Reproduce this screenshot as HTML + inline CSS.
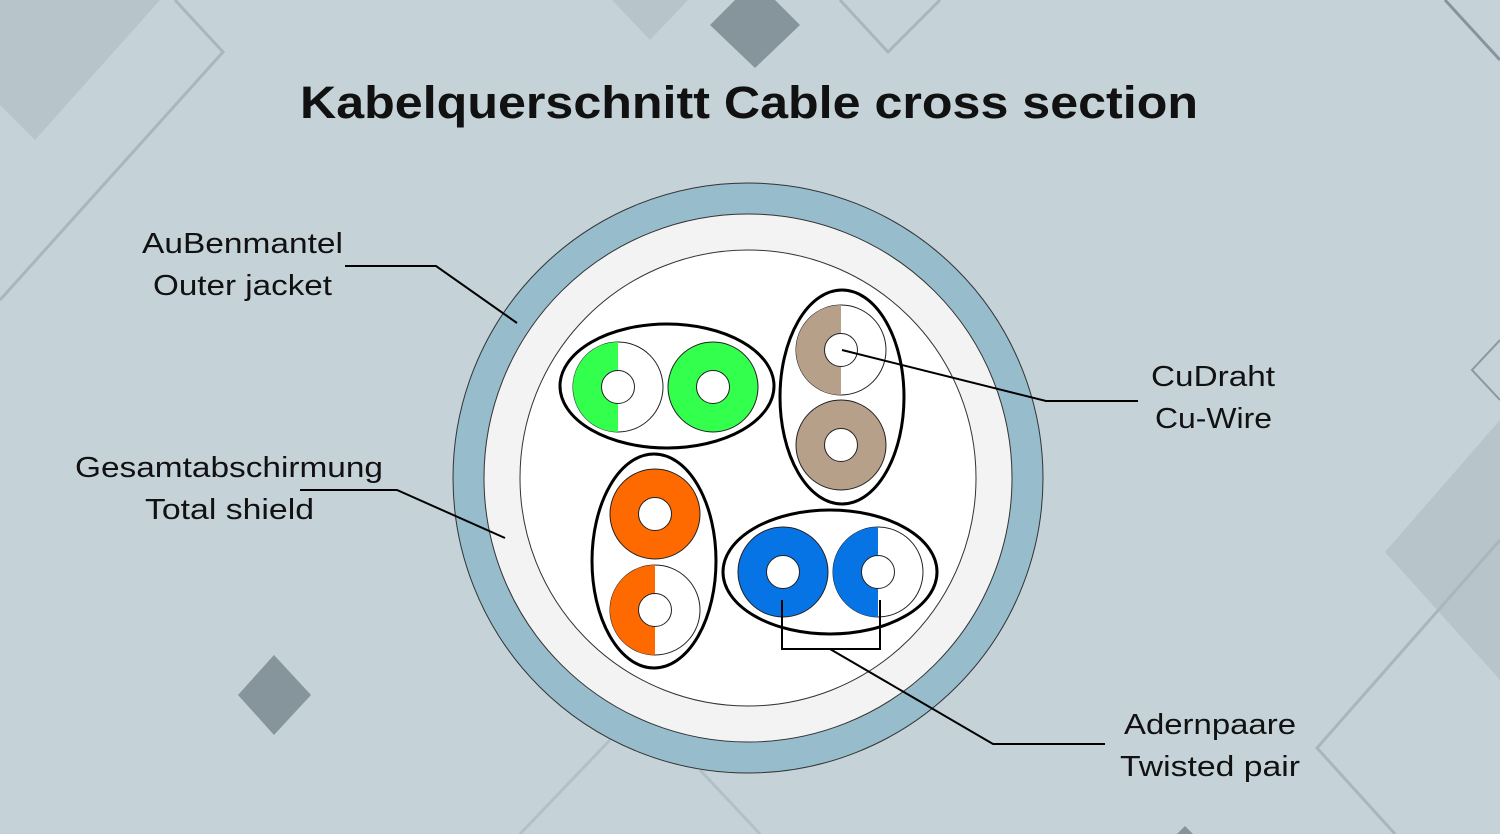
<!DOCTYPE html>
<html><head><meta charset="utf-8"><style>
html,body{margin:0;padding:0;width:1500px;height:834px;overflow:hidden;background:#c5d3d9}
svg{display:block}
text{font-family:"Liberation Sans",sans-serif;fill:#111}
</style></head><body>
<svg width="1500" height="834" viewBox="0 0 1500 834" xmlns="http://www.w3.org/2000/svg">
<rect width="1500" height="834" fill="#c5d3d9"/>
<polygon points="0,0 160,0 160,0 35,140 0,105" fill="#b7c5cb"/>
<polyline points="175,0 223,52 0,300" fill="none" stroke="#a9b7bd" stroke-width="3"/>
<polygon points="612,0 688,0 650,40" fill="#b7c5cb"/>
<polygon points="755,-20 800,25 755,68 710,25" fill="#86959c"/>
<polyline points="840,0 888,52 940,0" fill="none" stroke="#a9b7bd" stroke-width="3"/>
<polyline points="1445,0 1500,60" fill="none" stroke="#86959c" stroke-width="3"/>
<polyline points="1500,340 1472,370 1500,400" fill="none" stroke="#8a999f" stroke-width="2"/>
<polygon points="1500,420 1385,552 1500,680" fill="#b7c5cb"/>
<polyline points="1500,540 1317,748 1395,834" fill="none" stroke="#a9b7bd" stroke-width="3"/>
<polygon points="274,655 311,695 274,735 238,695" fill="#86959c"/>
<polyline points="520,834 610,740" fill="none" stroke="#b3c1c7" stroke-width="3"/>
<polyline points="700,770 760,834" fill="none" stroke="#b3c1c7" stroke-width="3"/>
<polygon points="1185,826 1193,834 1177,834" fill="#86959c"/>
<text x="749" y="118" text-anchor="middle" font-size="45" font-weight="bold" textLength="898" lengthAdjust="spacingAndGlyphs">Kabelquerschnitt Cable cross section</text>
<circle cx="748" cy="478" r="295" fill="#97bccb" stroke="#333" stroke-width="1"/>
<circle cx="748" cy="478" r="264" fill="#f3f3f3" stroke="#333" stroke-width="1"/>
<circle cx="748" cy="478" r="228" fill="#fff" stroke="#333" stroke-width="1"/>
<ellipse cx="667" cy="386" rx="107" ry="62" fill="#fff" stroke="#000" stroke-width="3"/>
<circle cx="618" cy="387" r="45" fill="#fff" stroke="#222"/>
<path d="M618,342 A45,45 0 0 0 618,432 Z" fill="#33ff4d"/>
<circle cx="618" cy="387" r="16.5" fill="#fff" stroke="#222"/>
<circle cx="713" cy="387" r="45" fill="#33ff4d" stroke="#222"/>
<circle cx="713" cy="387" r="16.5" fill="#fff" stroke="#222"/>
<ellipse cx="842" cy="397" rx="62" ry="107" fill="#fff" stroke="#000" stroke-width="3"/>
<circle cx="841" cy="350" r="45" fill="#fff" stroke="#222"/>
<path d="M841,305 A45,45 0 0 0 841,395 Z" fill="#b7a08a"/>
<circle cx="841" cy="350" r="16.5" fill="#fff" stroke="#222"/>
<circle cx="841" cy="445" r="45" fill="#b7a08a" stroke="#222"/>
<circle cx="841" cy="445" r="16.5" fill="#fff" stroke="#222"/>
<ellipse cx="654" cy="561" rx="62" ry="107" fill="#fff" stroke="#000" stroke-width="3"/>
<circle cx="655" cy="514" r="45" fill="#ff6a00" stroke="#222"/>
<circle cx="655" cy="514" r="16.5" fill="#fff" stroke="#222"/>
<circle cx="655" cy="610" r="45" fill="#fff" stroke="#222"/>
<path d="M655,565 A45,45 0 0 0 655,655 Z" fill="#ff6a00"/>
<circle cx="655" cy="610" r="16.5" fill="#fff" stroke="#222"/>
<ellipse cx="830" cy="572" rx="107" ry="62" fill="#fff" stroke="#000" stroke-width="3"/>
<circle cx="783" cy="572" r="45" fill="#0774e6" stroke="#222"/>
<circle cx="783" cy="572" r="16.5" fill="#fff" stroke="#222"/>
<circle cx="878" cy="572" r="45" fill="#fff" stroke="#222"/>
<path d="M878,527 A45,45 0 0 0 878,617 Z" fill="#0774e6"/>
<circle cx="878" cy="572" r="16.5" fill="#fff" stroke="#222"/>
<g fill="none" stroke="#000" stroke-width="2">
<polyline points="345,266 436,266 517,323"/>
<polyline points="300,490 397,490 505,538"/>
<polyline points="842,350 1046,401 1138,401"/>
<polyline points="782,600 782,649 880,649 880,600"/>
<polyline points="830,649 993,744 1105,744"/>
</g>
<g font-size="29" lengthAdjust="spacingAndGlyphs">
<text x="142" y="253" textLength="201" lengthAdjust="spacingAndGlyphs">AuBenmantel</text>
<text x="153" y="295" textLength="179" lengthAdjust="spacingAndGlyphs">Outer jacket</text>
<text x="75" y="477" textLength="308" lengthAdjust="spacingAndGlyphs">Gesamtabschirmung</text>
<text x="145" y="519" textLength="169" lengthAdjust="spacingAndGlyphs">Total shield</text>
<text x="1151" y="386" textLength="124" lengthAdjust="spacingAndGlyphs">CuDraht</text>
<text x="1155" y="428" textLength="117" lengthAdjust="spacingAndGlyphs">Cu-Wire</text>
<text x="1124" y="734" textLength="172" lengthAdjust="spacingAndGlyphs">Adernpaare</text>
<text x="1120" y="776" textLength="180" lengthAdjust="spacingAndGlyphs">Twisted pair</text>
</g>
</svg>
</body></html>
